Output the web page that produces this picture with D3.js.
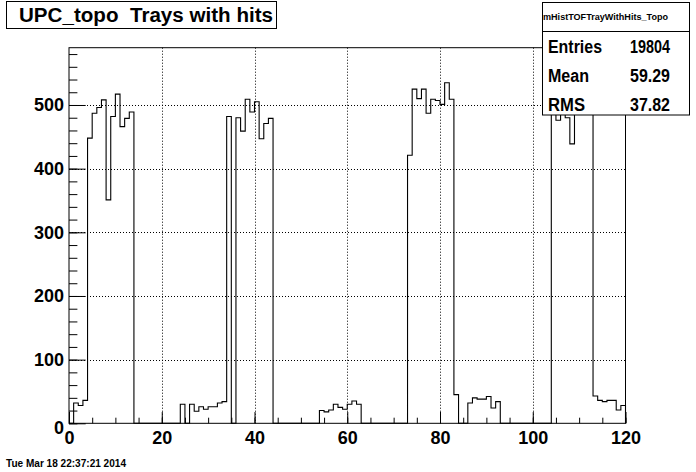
<!DOCTYPE html>
<html>
<head>
<meta charset="utf-8">
<script src="https://cdn.jsdelivr.net/npm/d3@7"></script>
<style>
  body { margin: 0; background: #fff; }
  svg { display: block; }
  text { font-family: "Liberation Sans", Arial, Helvetica, sans-serif; }
</style>
</head>
<body>
<svg id="chart" width="696" height="472"></svg>
<script>
// ---- data ----
const titleText = "UPC_topo  Trays with hits";
const histName = "mHistTOFTrayWithHits_Topo";
const statLabels = ["Entries", "Mean", "RMS"];
const statValues = ["19804", "59.29", "37.82"];
const dateText = "Tue Mar 18 22:37:21 2014";
const xRange = [0, 120];
const yMaxValue = 590;
const xMajorTicks = [0, 20, 40, 60, 80, 100, 120];
const yMajorTicks = [0, 100, 200, 300, 400, 500];
const counts = [
  0, 32, 28, 36, 448, 487, 496, 508, 351, 482,
  517, 466, 479, 489, 0, 0, 0, 0, 0, 0,
  0, 0, 0, 0, 30, 0, 30, 19, 26, 22,
  26, 26, 32, 34, 482, 0, 480, 459, 509, 489,
  505, 447, 471, 479, 0, 0, 0, 0, 0, 0,
  0, 0, 0, 0, 20, 18, 21, 30, 25, 22,
  30, 35, 30, 0, 0, 0, 0, 0, 0, 0,
  0, 0, 0, 421, 525, 510, 525, 487, 509, 507,
  501, 535, 509, 45, 0, 0, 32, 40, 38, 38,
  42, 24, 34, 0, 0, 0, 0, 0, 0, 0,
  0, 0, 0, 0, 530, 476, 510, 480, 439, 562,
  545, 525, 515, 43, 36, 34, 36, 36, 21, 28
];

// ---- layout ----
const svg = d3.select("#chart");
const L = 69, R = 625.5, T = 47.7, B = 423.3;
const x = d3.scaleLinear().domain(xRange).range([L, R]);
const y = d3.scaleLinear().domain([0, yMaxValue]).range([B, T]);

// grid
const grid = svg.append("g").attr("stroke", "#000").attr("stroke-width", 1)
  .attr("stroke-dasharray", "1,2");
grid.selectAll("line.vx").data(xMajorTicks.filter(d => d > xRange[0] && d < xRange[1]))
  .enter().append("line")
  .attr("x1", d => Math.round(x(d)) + 0.5).attr("x2", d => Math.round(x(d)) + 0.5)
  .attr("y1", T).attr("y2", B);
grid.selectAll("line.hy").data(yMajorTicks.filter(d => d > 0))
  .enter().append("line")
  .attr("x1", L).attr("x2", R)
  .attr("y1", d => Math.round(y(d)) + 0.5).attr("y2", d => Math.round(y(d)) + 0.5);

// histogram outline
const pts = [[xRange[0], 0]];
counts.forEach((c, i) => { pts.push([i, c]); pts.push([i + 1, c]); });
pts.push([xRange[1], 0]);
svg.append("path")
  .attr("d", d3.line().x(d => x(d[0])).y(d => y(d[1]))(pts))
  .attr("fill", "none").attr("stroke", "#000").attr("stroke-width", 1.1);

// frame
svg.append("rect").attr("x", L).attr("y", T).attr("width", R - L).attr("height", B - T)
  .attr("fill", "none").attr("stroke", "#000").attr("stroke-width", 1);

// x axis
const xMinor = d3.range(xRange[0], xRange[1] + 0.001, 5);
const xAxisMinor = d3.axisBottom(x).tickValues(xMinor).tickSizeInner(-5.6).tickSizeOuter(0).tickFormat("");
const xAxisMajor = d3.axisBottom(x).tickValues(xMajorTicks).tickSizeInner(-11.3).tickSizeOuter(0).tickPadding(8);
[xAxisMinor, xAxisMajor].forEach(ax => {
  const g = svg.append("g").attr("transform", `translate(0,${B})`).call(ax);
  g.select(".domain").remove();
  g.selectAll("line").attr("stroke", "#000");
});

// y axis
const yMinor = d3.range(0, yMaxValue + 0.001, 20);
const yAxisMinor = d3.axisLeft(y).tickValues(yMinor).tickSizeInner(-8.4).tickSizeOuter(0).tickFormat("");
const yAxisMajor = d3.axisLeft(y).tickValues(yMajorTicks).tickSizeInner(-16.7).tickSizeOuter(0).tickPadding(5);
let yMajG;
[yAxisMinor, yAxisMajor].forEach((ax, k) => {
  const g = svg.append("g").attr("transform", `translate(${L},0)`).call(ax);
  g.select(".domain").remove();
  g.selectAll("line").attr("stroke", "#000");
  if (k === 1) yMajG = g;
});

svg.selectAll(".tick text")
  .attr("font-family", "Liberation Sans, Arial, sans-serif")
  .attr("font-weight", "bold").attr("font-size", 18).attr("fill", "#000");
yMajG.selectAll(".tick text").filter(d => d === 0).attr("dy", "0.55em");

// title box
svg.append("rect").attr("x", 6.5).attr("y", 1.5).attr("width", 270).attr("height", 27)
  .attr("fill", "#fff").attr("stroke", "#000");
svg.append("text").attr("x", 19).attr("y", 21.5)
  .attr("font-weight", "bold").attr("font-size", 20)
  .style("white-space", "pre").attr("xml:space", "preserve")
  .attr("textLength", 254).attr("lengthAdjust", "spacingAndGlyphs")
  .text(titleText);

// stats box
const sx = 542.5, sw = 147, sy = 2.5, sh = 112.5;
svg.append("rect").attr("x", sx).attr("y", sy).attr("width", sw).attr("height", sh)
  .attr("fill", "#fff").attr("stroke", "#000");
svg.append("line").attr("x1", sx).attr("x2", sx + sw).attr("y1", 31.5).attr("y2", 31.5).attr("stroke", "#000");
svg.append("text").attr("x", 543).attr("y", 20)
  .attr("font-weight", "bold").attr("font-size", 9.5)
  .attr("textLength", 125).attr("lengthAdjust", "spacingAndGlyphs")
  .text(histName);
const rowY = [52.5, 81.5, 110.5];
const labW = [54, 41, 37];
statLabels.forEach((s, i) => {
  svg.append("text").attr("x", 548).attr("y", rowY[i])
    .attr("font-weight", "bold").attr("font-size", 17.5)
    .attr("textLength", labW[i]).attr("lengthAdjust", "spacingAndGlyphs").text(s);
  svg.append("text").attr("x", 670).attr("y", rowY[i]).attr("text-anchor", "end")
    .attr("font-weight", "bold").attr("font-size", 17.5)
    .attr("textLength", 40).attr("lengthAdjust", "spacingAndGlyphs").text(statValues[i]);
});

// date
svg.append("text").attr("x", 6).attr("y", 467)
  .attr("font-size", 10).attr("font-weight", "bold")
  .attr("textLength", 120).attr("lengthAdjust", "spacingAndGlyphs")
  .text(dateText);
</script>
</body>
</html>
